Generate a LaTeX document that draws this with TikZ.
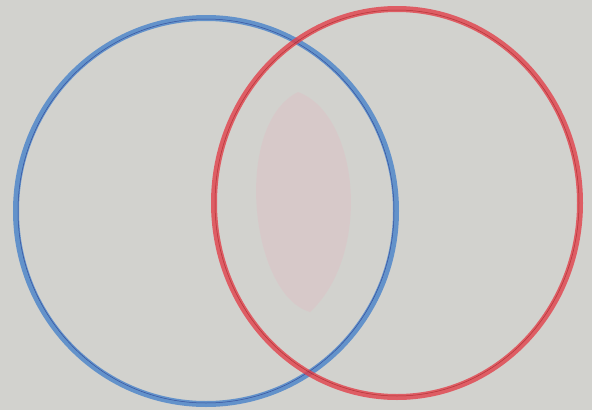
\documentclass[tikz,border=0pt]{standalone}
\begin{document}
\begin{tikzpicture}[x=1pt,y=-1pt,
  bluering/.style={draw=blueC,line width=6pt,opacity=0.8},
  redring/.style={draw=redC,line width=6pt,opacity=0.8},
  pencil/.style={line width=0.5pt,opacity=0.45}]
\definecolor{paper}{RGB}{210,210,206}
\definecolor{blueC}{RGB}{72,130,202}
\definecolor{redC}{RGB}{226,64,74}
\definecolor{lens}{RGB}{218,198,200}
\useasboundingbox (0,0) rectangle (592,410);
\fill[paper] (0,0) rectangle (592,410);
\coordinate (lt) at (298,92);
\coordinate (lb) at (310,312);
\fill[lens,opacity=0.7] (lt) .. controls (360,115) and (372,255) .. (lb)
  .. controls (250,295) and (232,125) .. (lt) -- cycle;
\draw[bluering] (206,211) ellipse [x radius=190, y radius=193];
\draw[pencil,draw=blue!40!black] (206,211) ellipse [x radius=188, y radius=192];
\draw[redring] (397,203) ellipse [x radius=183, y radius=194];
\draw[pencil,draw=red!50!black] (397,203) ellipse [x radius=182, y radius=193];
\end{tikzpicture}
\end{document}
